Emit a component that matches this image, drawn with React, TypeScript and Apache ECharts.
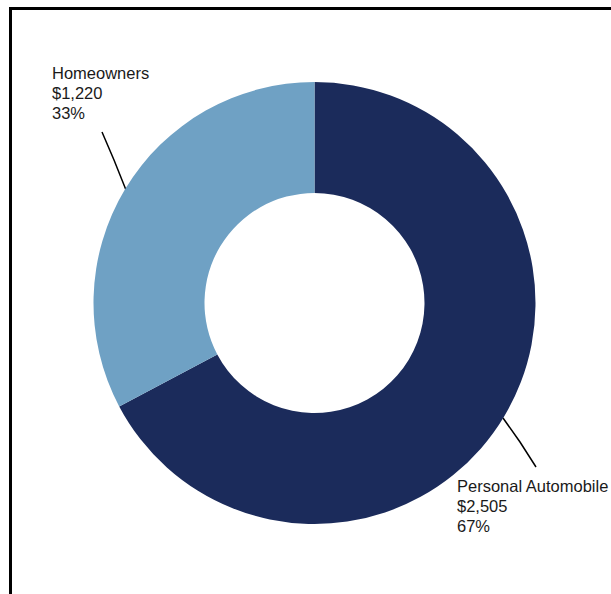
import React, { useEffect, useRef } from "react";
import * as echarts from "echarts";

const categories = ["Personal Automobile", "Homeowners"];
const values = [2505, 1220];
const colors = ["#1b2b5b", "#6fa1c4"];

export default function App() {
  const ref = useRef<HTMLDivElement>(null);
  useEffect(() => {
    document.body.style.margin = "0";
    const chart = echarts.init(ref.current!, null, { renderer: "svg" });
    const total = values.reduce((a, b) => a + b, 0);
    chart.setOption({
      animation: false,
      backgroundColor: "#ffffff",
      graphic: [
        {
          type: "rect",
          shape: { x: 10.5, y: 8.5, width: 700, height: 700 },
          style: { fill: "none", stroke: "#000", lineWidth: 3 },
          silent: true,
        },
      ],
      series: [
        {
          type: "pie",
          center: [314.5, 303],
          radius: [110, 221],
          startAngle: 90,
          clockwise: true,
          data: categories.map((c, i) => ({
            name: c,
            value: values[i],
            itemStyle: { color: colors[i] },
          })),
          label: {
            show: true,
            position: "outside",
            overflow: "none",
            width: 200,
            color: "#1a1a1a",
            fontFamily: "Liberation Sans, Arial, sans-serif",
            fontSize: 16.5,
            lineHeight: 20,
            formatter: (p: any) =>
              `${p.name}\n$${p.value.toLocaleString("en-US")}\n${Math.round((p.value / total) * 100)}%`,
          },
          labelLine: {
            show: true,
            lineStyle: { color: "#000", width: 1.5 },
          },
          labelLayout: (params: any) => {
            if (params.dataIndex === 0) {
              return {
                x: 457,
                y: 476,
                align: "left",
                verticalAlign: "top",
                labelLinePoints: [
                  [503, 418],
                  [520, 442],
                  [536, 467],
                ],
              };
            }
            return {
              x: 52,
              y: 63,
              align: "left",
              verticalAlign: "top",
              labelLinePoints: [
                [126, 190],
                [114, 160],
                [102, 132],
              ],
            };
          },
        },
      ],
    });
    return () => chart.dispose();
  }, []);
  return <div ref={ref} style={{ width: 611, height: 594 }} />;
}
